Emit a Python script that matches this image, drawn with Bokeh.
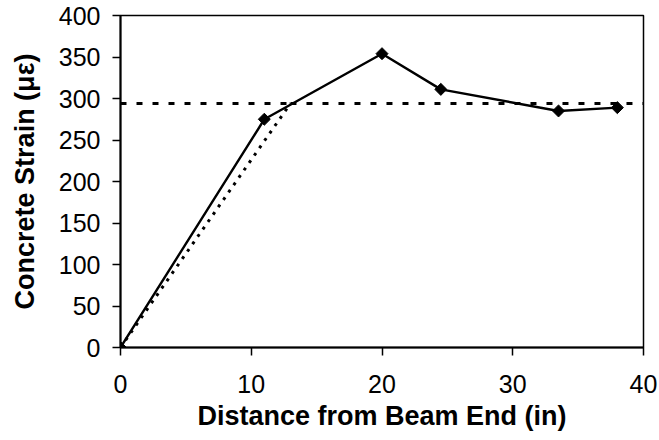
import math
from bokeh.plotting import figure
from bokeh.models import Range1d, FixedTicker
from bokeh.embed import file_html
from bokeh.resources import INLINE

# Data
distance = [0, 11, 20, 24.5, 33.5, 38]
strain = [0, 275, 354, 311, 285, 289]
model_x = [0, 13, 40]
model_y = [0, 294, 294]
x_ticks = [0, 10, 20, 30, 40]
y_ticks = [0, 50, 100, 150, 200, 250, 300, 350, 400]

FONT = "Liberation Sans"

p = figure(width=659, height=440, output_backend="svg", toolbar_location=None,
           x_range=Range1d(0, 40), y_range=Range1d(0, 400))
p.min_border_left = 120
p.min_border_right = 16
p.min_border_top = 15
p.min_border_bottom = 93

p.xgrid.visible = False
p.ygrid.visible = False
p.outline_line_color = "black"
p.outline_line_width = 1.5
p.outline_line_alpha = 1.0
p.background_fill_color = "white"
p.border_fill_color = "white"

# model lines (dashed)
p.line(model_x[:2], model_y[:2], line_color="black", line_width=3, line_dash="3 6")
p.line(model_x[1:], model_y[1:], line_color="black", line_width=3, line_dash="6 10")
p.line([0, model_x[1]], [model_y[1], model_y[1]], line_color="black", line_width=3, line_dash="6 10")

# measured
p.line(distance, strain, line_color="black", line_width=2.4)
p.scatter(distance, strain, marker="square", angle=math.pi / 4, size=8.5,
          fill_color="black", line_color="black")

for ax in (p.xaxis, p.yaxis):
    ax.axis_line_width = 2
    ax.axis_line_color = "black"
    ax.major_tick_line_width = 1.5
    ax.major_tick_line_color = "black"
    ax.major_tick_out = 8
    ax.major_tick_in = 0
    ax.minor_tick_line_color = None
    ax.major_label_text_font = FONT
    ax.major_label_text_font_size = "25px"
    ax.major_label_text_color = "black"
    ax.axis_label_text_font = FONT
    ax.axis_label_text_font_size = "27px"
    ax.axis_label_text_font_style = "bold"
    ax.axis_label_text_color = "black"

p.xaxis.ticker = FixedTicker(ticks=x_ticks)
p.yaxis.ticker = FixedTicker(ticks=y_ticks)
p.xaxis.axis_label = "Distance from Beam End (in)"
p.yaxis.axis_label = "Concrete Strain (με)"
p.xaxis.major_label_standoff = 19
p.yaxis.major_label_standoff = 12
p.xaxis.axis_label_standoff = 5
p.yaxis.axis_label_standoff = 16

open("out.html", "w").write(file_html(p, INLINE))
